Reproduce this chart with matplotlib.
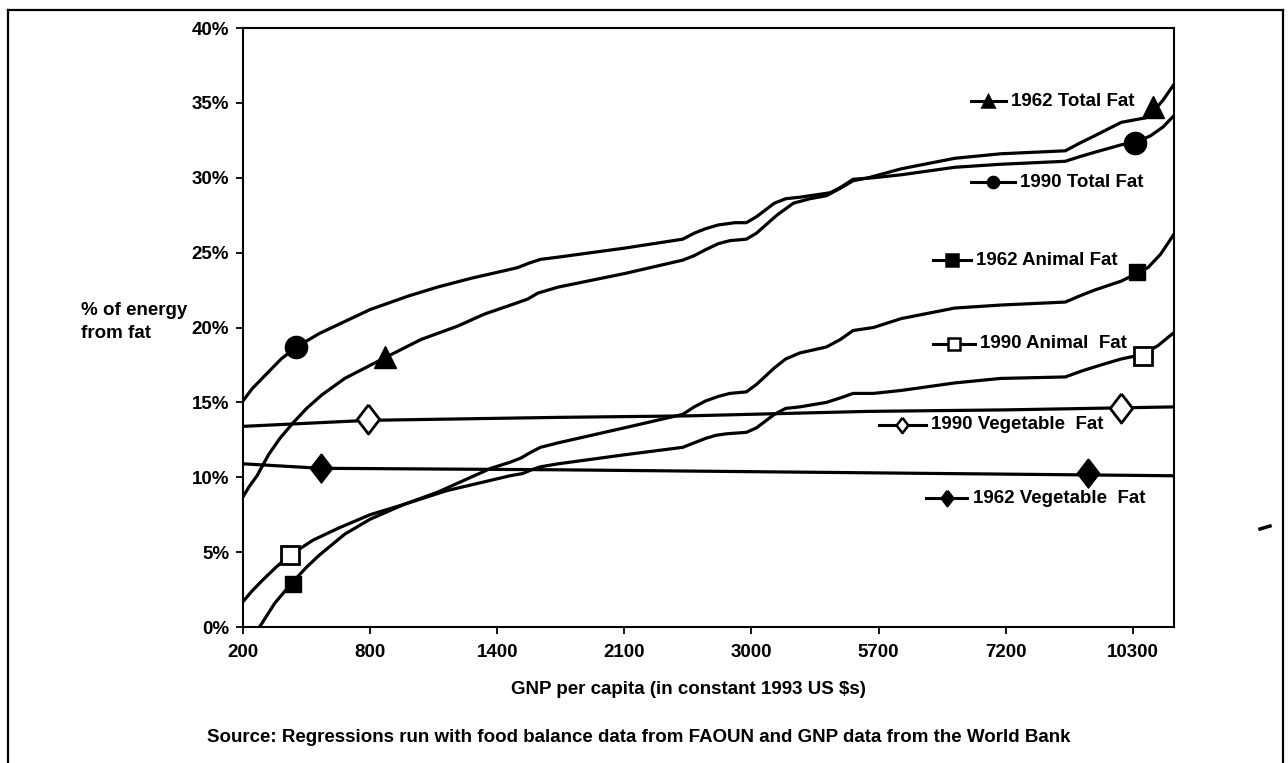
import matplotlib
matplotlib.use("Agg")
import matplotlib.pyplot as plt
from matplotlib.lines import Line2D

plt.rcParams['font.family'] = ['Liberation Sans', 'DejaVu Sans']
plt.rcParams['font.weight'] = 'bold'

# x axis categories (GNP per capita), positions are category steps
gnp_labels = ["200", "800", "1400", "2100", "3000", "5700", "7200", "10300"]

# curves: (position along GNP axis, % of energy)
total90_x = [0, 0.07, 0.15, 0.3, 0.42, 0.6, 0.75, 1.0, 1.3, 1.53, 1.8, 2.06, 2.16, 2.25, 2.34, 2.48,
             3.0, 3.46, 3.55, 3.64, 3.74, 3.87, 3.96, 4.04, 4.18, 4.27, 4.38, 4.62, 4.71, 4.8,
             4.96, 5.18, 5.6, 5.96, 6.47, 6.58, 6.7, 6.91, 7.02, 7.14, 7.24, 7.33]
total90_y = [15.1, 15.9, 16.6, 17.9, 18.7, 19.6, 20.2, 21.2, 22.1, 22.7, 23.3, 23.8, 24.0, 24.3, 24.55, 24.7,
             25.3, 25.9, 26.3, 26.6, 26.85, 27.0, 27.0, 27.4, 28.3, 28.6, 28.7, 29.0, 29.4, 29.9,
             30.0, 30.2, 30.7, 30.9, 31.1, 31.4, 31.7, 32.2, 32.35, 32.8, 33.4, 34.2]

total62_x = [0, 0.05, 0.11, 0.2, 0.29, 0.39, 0.5, 0.62, 0.8, 1.12, 1.4, 1.69, 1.9, 2.14, 2.24, 2.32, 2.48,
             3.0, 3.46, 3.55, 3.64, 3.74, 3.83, 3.96, 4.04, 4.2, 4.33, 4.46, 4.59, 4.7, 4.8, 4.92,
             5.18, 5.6, 5.96, 6.47, 6.58, 6.7, 6.91, 7.1, 7.16, 7.24, 7.33]
total62_y = [8.7, 9.4, 10.1, 11.5, 12.6, 13.6, 14.6, 15.5, 16.6, 18.0, 19.2, 20.1, 20.9, 21.6, 21.9, 22.3, 22.7,
             23.6, 24.5, 24.8, 25.2, 25.6, 25.8, 25.9, 26.3, 27.5, 28.3, 28.6, 28.8, 29.3, 29.8, 30.0,
             30.6, 31.3, 31.6, 31.8, 32.3, 32.8, 33.7, 34.0, 34.4, 35.2, 36.3]

animal62_x = [0.13, 0.19, 0.25, 0.32, 0.39, 0.5, 0.6, 0.8, 1.0, 1.27, 1.53, 1.95, 2.1, 2.19, 2.26, 2.34,
              2.48, 3.0, 3.46, 3.55, 3.64, 3.74, 3.83, 3.96, 4.04, 4.18, 4.27, 4.38, 4.59, 4.7, 4.8,
              4.96, 5.18, 5.6, 5.96, 6.47, 6.58, 6.7, 6.91, 7.03, 7.12, 7.22, 7.33]
animal62_y = [0.0, 0.8, 1.6, 2.3, 3.0, 4.0, 4.8, 6.2, 7.2, 8.2, 9.0, 10.6, 11.0, 11.3, 11.65, 12.0,
              12.3, 13.3, 14.2, 14.7, 15.1, 15.4, 15.6, 15.7, 16.2, 17.3, 17.9, 18.3, 18.7, 19.2, 19.8,
              20.0, 20.6, 21.3, 21.5, 21.7, 22.1, 22.5, 23.1, 23.6, 24.0, 24.9, 26.3]

animal90_x = [0, 0.07, 0.15, 0.26, 0.37, 0.55, 0.75, 1.0, 1.27, 1.6, 1.95, 2.1, 2.2, 2.27, 2.34, 2.48,
              3.0, 3.46, 3.55, 3.64, 3.72, 3.8, 3.96, 4.04, 4.18, 4.27, 4.38, 4.59, 4.7, 4.8, 4.96,
              5.18, 5.6, 5.96, 6.47, 6.6, 6.75, 6.91, 7.08, 7.2, 7.33]
animal90_y = [1.7, 2.4, 3.1, 4.0, 4.8, 5.8, 6.6, 7.5, 8.2, 9.1, 9.8, 10.1, 10.25, 10.5, 10.7, 10.9,
              11.5, 12.0, 12.3, 12.6, 12.8, 12.9, 13.0, 13.3, 14.2, 14.6, 14.7, 15.0, 15.3, 15.6, 15.6,
              15.8, 16.3, 16.6, 16.7, 17.1, 17.5, 17.9, 18.2, 18.8, 19.7]

veg90_x = [0, 0.98, 2.48, 3.5, 4.92, 6.0, 7.33]
veg90_y = [13.4, 13.8, 14.0, 14.1, 14.4, 14.5, 14.7]

veg62_x = [0, 0.61, 2.48, 4.9, 7.33]
veg62_y = [10.9, 10.6, 10.5, 10.3, 10.1]

# marker spots on each curve
tri62_x, tri62_y = [1.12, 7.16], [18.0, 34.7]
circ90_x, circ90_y = [0.42, 7.02], [18.7, 32.3]
sq62_x, sq62_y = [0.39, 7.03], [2.9, 23.7]
sq90_x, sq90_y = [0.37, 7.08], [4.8, 18.1]
dia90_x, dia90_y = [0.98, 6.91], [13.9, 14.6]
dia62_x, dia62_y = [0.61, 6.65], [10.6, 10.3]

diamond = [(0, 1.3), (1, 0), (0, -1.3), (-1, 0), (0, 1.3)]

fig = plt.figure(figsize=(12.88, 7.63), dpi=100)
ax = fig.add_axes([0.1887, 0.1782, 0.7228, 0.7851])

lw = 2.3
kw = dict(color='black', lw=lw, solid_joinstyle='round', solid_capstyle='round', zorder=2)
ax.plot(total90_x, total90_y, **kw)
ax.plot(total62_x, total62_y, **kw)
ax.plot(animal62_x, animal62_y, **kw)
ax.plot(animal90_x, animal90_y, **kw)
ax.plot(veg90_x, veg90_y, **kw)
ax.plot(veg62_x, veg62_y, **kw)

mk = dict(ls='none', zorder=3, mec='black')
ax.plot(tri62_x, tri62_y, marker='^', ms=16, mfc='black', **mk)
ax.plot(circ90_x, circ90_y, marker='o', ms=16, mfc='black', **mk)
ax.plot(sq62_x, sq62_y, marker='s', ms=12, mfc='black', **mk)
ax.plot(sq90_x, sq90_y, marker='s', ms=13, mfc='white', mew=2, **mk)
ax.plot(dia90_x, dia90_y, marker=diamond, ms=21, mfc='white', mew=2, **mk)
ax.plot(dia62_x, dia62_y, marker=diamond, ms=21, mfc='black', **mk)

# hand-placed legend entries
labels = [
    ("1962 Total Fat", 5.73, 6.0, 35.1, '^', 'black', 9),
    ("1990 Total Fat", 5.73, 6.07, 29.7, 'o', 'black', 8),
    ("1962 Animal Fat", 5.43, 5.73, 24.5, 's', 'black', 8),
    ("1990 Animal  Fat", 5.43, 5.76, 18.9, 's', 'white', 8),
    ("1990 Vegetable  Fat", 5.0, 5.37, 13.5, diamond, 'white', 11),
    ("1962 Vegetable  Fat", 5.37, 5.70, 8.6, diamond, 'black', 11),
]
for text, x0, x1, y, m, fc, ms in labels:
    ax.plot([x0, x1], [y, y], color='black', lw=2.2, zorder=4)
    ax.plot([(x0 + x1) / 2], [y], marker=m, ms=ms, mfc=fc, mec='black', mew=1.8, zorder=5)
    ax.text(x1 + 0.04, y, text, fontsize=13.5, fontweight='bold', va='center', ha='left')

ax.set_xlim(0, 7.325)
ax.set_ylim(0, 40)
ax.set_xticks(range(len(gnp_labels)))
ax.set_xticklabels(gnp_labels)
ax.set_yticks(range(0, 41, 5))
ax.set_yticklabels([f"{v}%" for v in range(0, 41, 5)])
ax.tick_params(direction='out', length=5, width=1.3, labelsize=13.5, pad=5)
ax.tick_params(axis='x', pad=7)
for s in ax.spines.values():
    s.set_linewidth(1.5)

fig.text(81 / 1288, 1 - 322 / 763, "% of energy\nfrom fat", fontsize=13.5, fontweight='bold',
         ha='left', va='center', linespacing=1.4)
fig.text(688 / 1288, 1 - 689 / 763, "GNP per capita (in constant 1993 US $s)", fontsize=13.5,
         fontweight='bold', ha='center', va='center')
fig.text(639 / 1288, 1 - 737 / 763,
         "Source: Regressions run with food balance data from FAOUN and GNP data from the World Bank",
         fontsize=13.5, fontweight='bold', ha='center', va='center')

# outer frame (bottom edge is cut off in the scan)
fx0, fx1, fy1 = 8 / 1288, 1283 / 1288, 1 - 10 / 763
fig.add_artist(Line2D([fx0, fx0], [0, fy1], color='black', lw=1.6))
fig.add_artist(Line2D([fx0, fx1], [fy1, fy1], color='black', lw=1.6))
fig.add_artist(Line2D([fx1, fx1], [0, fy1], color='black', lw=1.6))
# small speck right of the chart
fig.add_artist(Line2D([1260 / 1288, 1270 / 1288], [1 - 529 / 763, 1 - 526 / 763], color='black', lw=2.5))

fig.savefig("out.png", dpi=100)
